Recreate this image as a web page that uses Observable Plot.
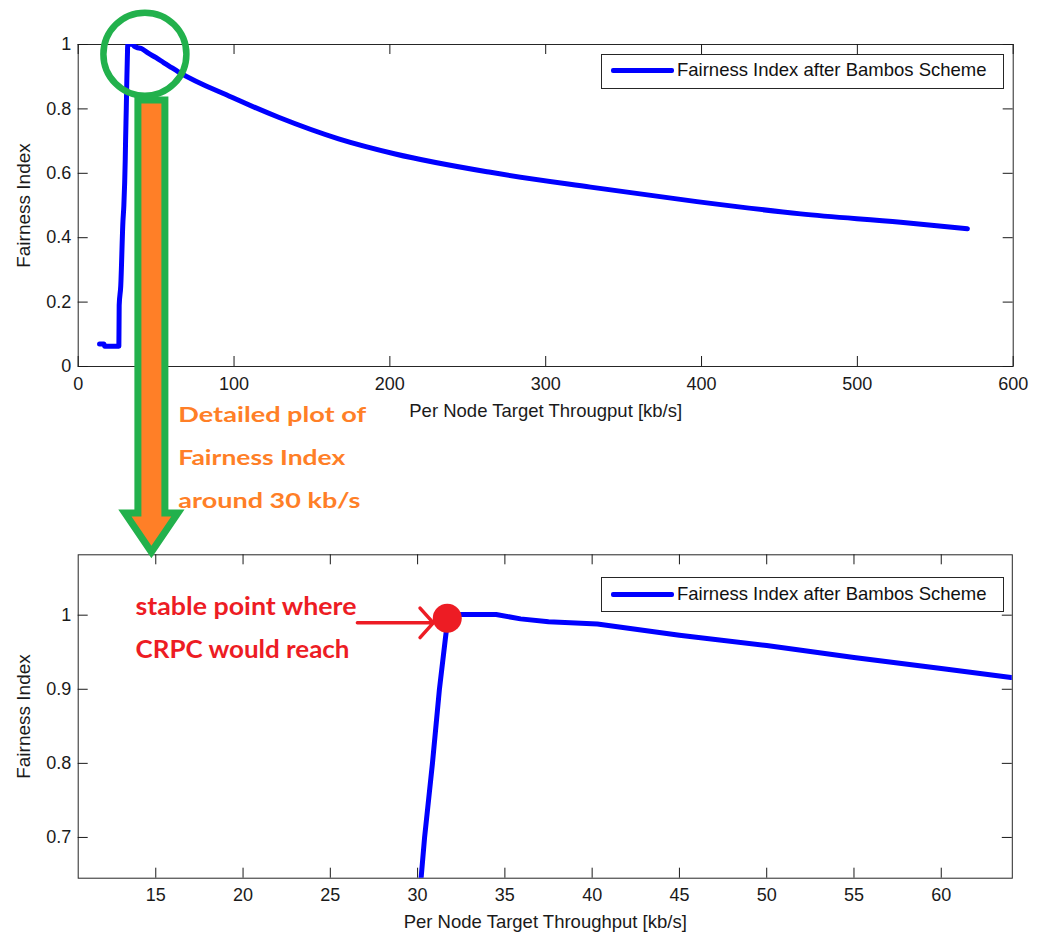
<!DOCTYPE html>
<html>
<head>
<meta charset="utf-8">
<script src="https://cdn.jsdelivr.net/npm/d3@7"></script>
<script src="https://cdn.jsdelivr.net/npm/@observablehq/plot@0.6"></script>
<style>
  body { margin: 0; background: #fff; }
  #fig { position: relative; width: 1038px; height: 935px; overflow: hidden; font-family: "Liberation Sans", Arial, sans-serif; }
  #fig > svg { position: absolute; left: 0; }
  .legend { position: absolute; left: 601px; width: 403px; height: 35px; box-sizing: border-box;
            border: 1px solid #262626; background: #fff; font-size: 18.5px; color: #111; }
  .legend .swatch { position: absolute; left: 9px; width: 63px; height: 5px; background: #0000ff; border-radius: 2px; }
  .legend .name { position: absolute; left: 75px; white-space: nowrap; line-height: 1; }
</style>
</head>
<body>
<div id="fig"></div>
<script>
// Jain fairness index vs. per-node target throughput (Bambos power control)
const throughput = [13.7, 16.5, 17.0, 26.1, 26.3, 27.3, 28.7, 29.3, 30.2, 30.4, 30.85, 31.25, 31.6, 31.75,
  32.5, 34.5, 35.9, 37.5, 40.3, 45, 50, 55, 60, 64, 98.6, 128.6, 167.1, 203.5, 264.6, 328.8, 397,
  463.6, 527.8, 570.6];
const fairness = [0.07, 0.07, 0.063, 0.063, 0.19, 0.25, 0.45, 0.5, 0.645, 0.7, 0.8, 0.9, 0.97, 0.998,
  1.001, 1.001, 0.995, 0.991, 0.988, 0.973, 0.959, 0.943, 0.928, 0.916, 0.836, 0.774, 0.707, 0.66, 0.603,
  0.557, 0.512, 0.474, 0.448, 0.428];

const seriesName = "Fairness Index after Bambos Scheme";
const yLabel = "Fairness Index";
const xLabelFull = "Per Node Target Througput [kb/s]";
const xLabelZoom = "Per Node Target Throughput [kb/s]";

const fullXTicks = [0, 100, 200, 300, 400, 500, 600];
const fullYTicks = [0, 0.2, 0.4, 0.6, 0.8, 1];
const zoomXTicks = [15, 20, 25, 30, 35, 40, 45, 50, 55, 60];
const zoomYTicks = [0.7, 0.8, 0.9, 1];

// point highlighted in the zoomed panel, and the region circled in the full one
const stablePoint = [{x: 31.7, y: 0.996}];
const circledRegion = [{x: 42.8, y: 0.97}];
const calloutArrow = [{x1: 26.55, x2: 30.9, y: 0.9897}];
const calloutLines = [
  {x: 13.84, y: 1.0, text: "stable point where", len: 221},
  {x: 13.84, y: 0.942, text: "CRPC would reach", len: 214}
];
const zoomNote = [
  {text: "Detailed plot of", len: 188},
  {text: "Fairness Index", len: 167},
  {text: "around 30 kb/s", len: 182}
];

const rows = throughput.map((t, i) => ({t, f: fairness[i]}));
const BLUE = "#0000ff", RED = "#ed1c24", GREEN = "#22b14c", ORANGE = "#ff7f27", INK = "#1a1a1a";

function panel({top, height, mTop, mBottom, mLeft, mRight, xDomain, yDomain, xTicks, yTicks, xLabel, curve, extra}) {
  const innerH = height - mTop - mBottom;
  const innerW = 1038 - mLeft - mRight;
  const svg = Plot.plot({
    width: 1038, height,
    marginTop: mTop, marginBottom: mBottom, marginLeft: mLeft, marginRight: mRight,
    style: {fontFamily: "'Liberation Sans', Arial, sans-serif", fontSize: "18px", color: INK,
            background: "transparent", overflow: "visible"},
    x: {domain: xDomain},
    y: {domain: yDomain},
    marks: [
      Plot.frame({stroke: "#262626"}),
      // inward ticks on all four sides of the box
      Plot.tickX(xTicks, {x: d => d, insetTop: innerH - 10, stroke: INK}),
      Plot.tickX(xTicks, {x: d => d, insetBottom: innerH - 10, stroke: INK}),
      Plot.tickY(yTicks, {y: d => d, insetRight: innerW - 10, stroke: INK}),
      Plot.tickY(yTicks, {y: d => d, insetLeft: innerW - 10, stroke: INK}),
      Plot.axisX(xTicks, {tickSize: 0, tickPadding: 10.5, tickFormat: d => String(d), label: null}),
      Plot.axisY(yTicks, {tickSize: 0, tickPadding: 7, tickFormat: d => String(d), label: null}),
      Plot.text([xLabel], {frameAnchor: "bottom", text: d => d, dy: 50, lineAnchor: "bottom", fontSize: 18.5}),
      Plot.text([yLabel], {frameAnchor: "left", text: d => d, rotate: -90, dx: -48, textAnchor: "middle",
                           lineAnchor: "bottom", fontSize: 19}),
      Plot.line(rows, {x: "t", y: "f", stroke: BLUE, strokeWidth: 5, curve, clip: true}),
      ...extra
    ]
  });
  svg.style.top = top + "px";
  return svg;
}

const fig = document.getElementById("fig");

const full = panel({
  top: 0, height: 430, mTop: 44, mBottom: 64, mLeft: 77.7, mRight: 25.3,
  xDomain: [0, 600], yDomain: [0, 1], xTicks: fullXTicks, yTicks: fullYTicks, xLabel: xLabelFull,
  curve: "monotone-x",
  extra: [Plot.dot(circledRegion, {x: "x", y: "y", r: 41.5, stroke: GREEN, strokeWidth: 6.5, fill: "none"})]
});

const zoom = panel({
  top: 470, height: 465, mTop: 84.3, mBottom: 57.3, mLeft: 77.7, mRight: 26.2,
  xDomain: [10.556, 64.07], yDomain: [0.645, 1.0815], xTicks: zoomXTicks, yTicks: zoomYTicks, xLabel: xLabelZoom,
  curve: "linear",
  extra: [
    Plot.arrow(calloutArrow, {x1: "x1", x2: "x2", y1: "y", y2: "y", stroke: RED, strokeWidth: 3.5,
                              headAngle: 96, headLength: 8.5}),
    Plot.dot(stablePoint, {x: "x", y: "y", r: 14.5, fill: RED}),
    Plot.text(calloutLines, {x: "x", y: "y", text: "text", textAnchor: "start", lineAnchor: "bottom",
                             fill: RED, fontFamily: "Lato, sans-serif", fontWeight: 700, fontSize: 24.5})
  ]
});

fig.append(full, zoom);

// fit the callout lines to their measured widths
d3.select(zoom).selectAll("text").each(function () {
  const hit = calloutLines.find(c => c.text === this.textContent);
  if (hit) d3.select(this).attr("textLength", hit.len).attr("lengthAdjust", "spacingAndGlyphs");
});

// legends inside each box
function legend(top, lineY) {
  const div = document.createElement("div");
  div.className = "legend";
  div.style.top = top + "px";
  div.innerHTML = `<div class="swatch" style="top:${lineY - 2.5}px"></div>` +
                  `<div class="name" style="top:${lineY - 9}px">${seriesName}</div>`;
  fig.append(div);
}
legend(54, 15);
legend(577.3, 16);

// zoom arrow linking the two panels, with its note
const overlay = d3.select(fig).append("svg")
  .attr("width", 1038).attr("height", 935)
  .style("position", "absolute").style("top", "0px").style("left", "0px").style("pointer-events", "none");

const xc = full.scale("x").apply(circledRegion[0].x) + 7;
overlay.append("polygon")
  .attr("points", [[xc - 13.5, 100], [xc + 13.5, 100], [xc + 13.5, 513], [xc + 26.5, 513], [xc, 552],
                   [xc - 26.5, 513], [xc - 13.5, 513]].map(p => p.join(",")).join(" "))
  .attr("fill", ORANGE).attr("stroke", GREEN).attr("stroke-width", 7).attr("stroke-linejoin", "miter");

overlay.selectAll("text.note").data(zoomNote).join("text")
  .attr("class", "note")
  .attr("x", 178.3)
  .attr("y", (d, i) => 421.7 + i * 43.3)
  .attr("textLength", d => d.len).attr("lengthAdjust", "spacingAndGlyphs")
  .attr("fill", ORANGE)
  .style("font", "700 21px Lato, sans-serif")
  .text(d => d.text);
</script>
</body>
</html>
